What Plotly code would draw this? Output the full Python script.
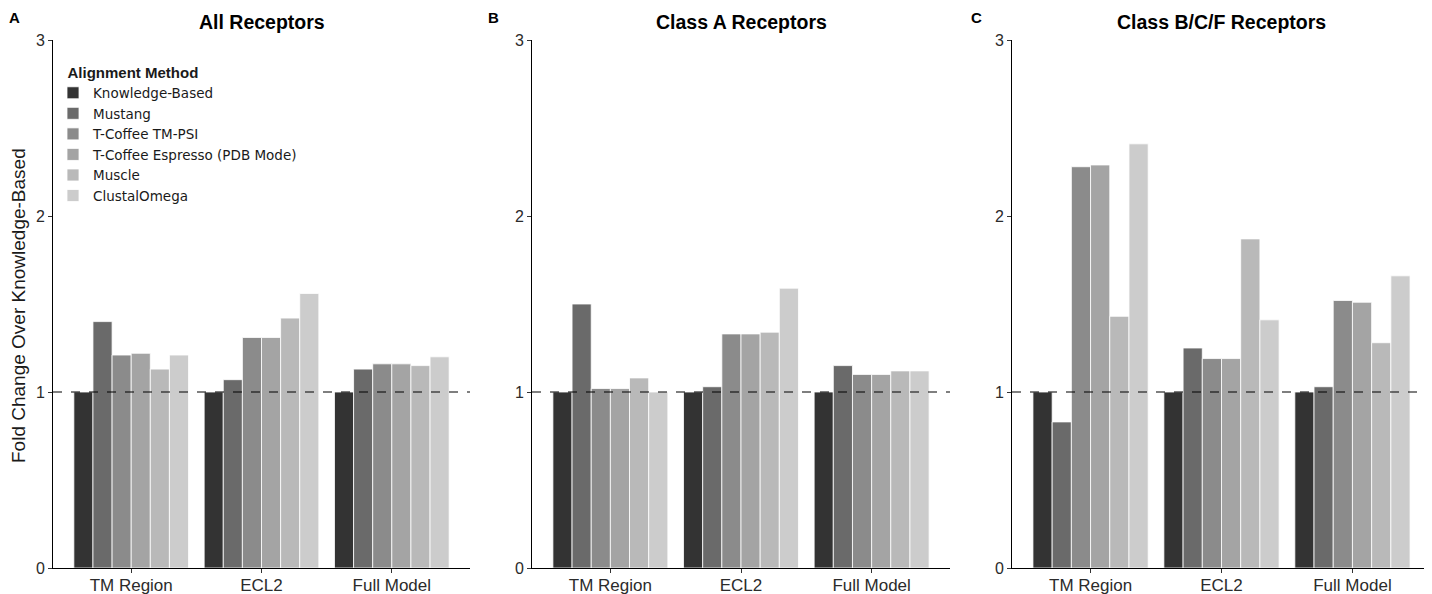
import plotly.graph_objects as go

categories = ["TM Region", "ECL2", "Full Model"]
methods = ["Knowledge-Based", "Mustang", "T-Coffee TM-PSI",
           "T-Coffee Espresso (PDB Mode)", "Muscle", "ClustalOmega"]
colors = ["#333333", "#6A6A6A", "#8B8B8B", "#A4A4A4", "#B9B9B9", "#CCCCCC"]

panel_titles = ["All Receptors", "Class A Receptors", "Class B/C/F Receptors"]
panel_letters = ["A", "B", "C"]

# values per panel: rows = methods, columns = categories
all_receptors = [
    [1.00, 1.00, 1.00],
    [1.40, 1.07, 1.13],
    [1.21, 1.31, 1.16],
    [1.22, 1.31, 1.16],
    [1.13, 1.42, 1.15],
    [1.21, 1.56, 1.20],
]
class_a = [
    [1.00, 1.00, 1.00],
    [1.50, 1.03, 1.15],
    [1.02, 1.33, 1.10],
    [1.02, 1.33, 1.10],
    [1.08, 1.34, 1.12],
    [1.00, 1.59, 1.12],
]
class_bcf = [
    [1.00, 1.00, 1.00],
    [0.83, 1.25, 1.03],
    [2.28, 1.19, 1.52],
    [2.29, 1.19, 1.51],
    [1.43, 1.87, 1.28],
    [2.41, 1.41, 1.66],
]
panels = [all_receptors, class_a, class_bcf]

# page body adds an 8px offset; lay out in window pixels minus that offset
OFF = 8
W, H = 1432 - OFF, 594 - OFF


def px(x):
    return (x - OFF) / W


def py(y):
    return 1 - (y - OFF) / H


x_domains = [(px(53), px(470)), (px(532), px(950)), (px(1012), px(1431))]
y_domain = (py(568), py(40))

fig = go.Figure()
for p, data in enumerate(panels):
    xa = "x" if p == 0 else f"x{p+1}"
    ya = "y" if p == 0 else f"y{p+1}"
    for m, name in enumerate(methods):
        fig.add_trace(go.Bar(
            x=categories, y=data[m], name=name,
            marker=dict(color=colors[m], line=dict(color="white", width=0.8)),
            xaxis=xa, yaxis=ya, showlegend=(p == 0), legendgroup=name,
        ))

layout = dict(
    width=W, height=H,
    margin=dict(l=0, r=0, t=0, b=0),
    paper_bgcolor="white", plot_bgcolor="white",
    barmode="group", bargap=0.12, bargroupgap=0,
    font=dict(family="Liberation Sans, Arial, sans-serif", color="#1a1a1a", size=15),
    legend=dict(
        x=px(53), y=py(58), xanchor="left", yanchor="top",
        bgcolor="rgba(0,0,0,0)",
        font=dict(family="DejaVu Sans", size=13.5, color="#1a1a1a"),
        title=dict(text="&nbsp;&nbsp;&nbsp;<b>Alignment Method</b>",
                   font=dict(family="Liberation Sans, Arial", size=15, color="#1a1a1a")),
        tracegroupgap=0, itemclick=False,
    ),
)
shapes = []
annotations = []
for p in range(3):
    sx = "" if p == 0 else str(p + 1)
    layout[f"xaxis{sx}"] = dict(
        domain=x_domains[p], anchor=f"y{sx}", range=[-0.6, 2.6],
        showline=True, linecolor="black", linewidth=1,
        ticks="outside", ticklen=4, tickcolor="#333333",
        tickfont=dict(size=17, color="#2b2b2b"), ticklabelstandoff=-2,
        showgrid=False, zeroline=False, automargin=False, fixedrange=True,
    )
    layout[f"yaxis{sx}"] = dict(
        domain=y_domain, anchor=f"x{sx}", range=[0, 3],
        tickvals=[0, 1, 2, 3], ticktext=["0", "1", "2", "3"],
        showline=True, linecolor="black", linewidth=1,
        ticks="outside", ticklen=4, tickcolor="#333333",
        tickfont=dict(size=16, color="#2b2b2b"),
        showgrid=False, zeroline=False, automargin=False, fixedrange=True,
    )
    shapes.append(dict(
        type="line", xref=f"x{sx} domain", yref=f"y{sx}",
        x0=0, x1=1, y0=1, y1=1,
        line=dict(color="black", width=1.2, dash="dash"), layer="above",
    ))
    annotations.append(dict(
        text=f"<b>{panel_titles[p]}</b>", xref=f"x{sx} domain", yref="paper",
        x=0.5, y=py(22), xanchor="center", yanchor="middle",
        showarrow=False, font=dict(size=19.5, color="black"),
    ))
    annotations.append(dict(
        text=f"<b>{panel_letters[p]}</b>", xref="paper", yref="paper",
        x=px([14, 494, 976][p]), y=py(17),
        xanchor="center", yanchor="middle",
        showarrow=False, font=dict(size=15, color="black"),
    ))

annotations.append(dict(
    text="Fold Change Over Knowledge-Based", xref="paper", yref="paper",
    x=px(18), y=py(306), textangle=-90, xanchor="center", yanchor="middle",
    showarrow=False, font=dict(size=19, color="#1a1a1a"),
))
layout["shapes"] = shapes
layout["annotations"] = annotations
fig.update_layout(**layout)

fig.write_html("out.html")
